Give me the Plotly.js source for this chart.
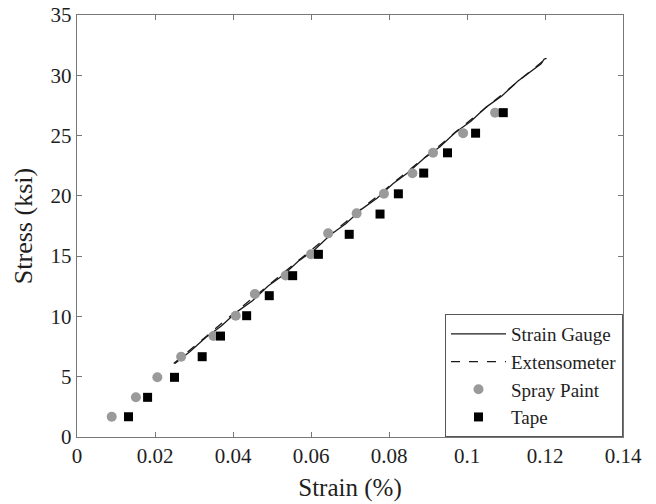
<!DOCTYPE html>
<html>
<head>
<meta charset="utf-8">
<script src="https://cdn.plot.ly/plotly-3.0.1.min.js"></script>
<style>html,body{margin:0;padding:0;background:#fff;}#chart{width:656px;height:504px;}</style>
</head>
<body>
<div id="chart"></div>
<script>
// Strain Gauge (solid line)
const gaugeStrain = [0.0251, 0.0290, 0.0330, 0.0370, 0.0410, 0.0450, 0.0490, 0.0530, 0.0570, 0.0610, 0.0650, 0.0690, 0.0730, 0.0770, 0.0810, 0.0850, 0.0890, 0.0930, 0.0970, 0.1010, 0.1050, 0.1090, 0.1130, 0.1170, 0.1190, 0.1198, 0.1204];
const gaugeStress = [6.10, 7.10, 8.25, 9.20, 10.38, 11.30, 12.52, 13.45, 14.65, 15.55, 16.78, 17.70, 18.90, 19.82, 21.00, 21.95, 23.12, 24.05, 25.25, 26.18, 27.38, 28.30, 29.50, 30.42, 30.95, 31.35, 31.40];
// Extensometer (dashed line)
const extStrain = [0.0248, 0.0290, 0.0330, 0.0370, 0.0410, 0.0450, 0.0490, 0.0530, 0.0570, 0.0610, 0.0650, 0.0690, 0.0730, 0.0770, 0.0810, 0.0850, 0.0890, 0.0930, 0.0970, 0.1010, 0.1050, 0.1090, 0.1130, 0.1170, 0.1200];
const extStress = [6.10, 7.25, 8.33, 9.38, 10.47, 11.50, 12.60, 13.62, 14.70, 15.74, 16.82, 17.85, 18.95, 19.96, 21.05, 22.08, 23.15, 24.18, 25.27, 26.30, 27.38, 28.40, 29.48, 30.52, 31.32];
// Spray Paint (gray circles)
const sprayStrain = [0.0089, 0.0151, 0.0206, 0.0267, 0.0350, 0.0407, 0.0456, 0.0535, 0.0600, 0.0644, 0.0717, 0.0787, 0.0860, 0.0913, 0.0990, 0.1072];
const sprayStress = [1.68, 3.29, 4.95, 6.66, 8.37, 10.06, 11.86, 13.40, 15.15, 16.89, 18.55, 20.17, 21.87, 23.57, 25.20, 26.90];
// Tape (black squares)
const tapeStrain = [0.0132, 0.0181, 0.0250, 0.0321, 0.0368, 0.0435, 0.0493, 0.0553, 0.0619, 0.0698, 0.0777, 0.0824, 0.0889, 0.0950, 0.1022, 0.1093];
const tapeStress = [1.68, 3.29, 4.95, 6.66, 8.37, 10.06, 11.72, 13.38, 15.15, 16.81, 18.49, 20.17, 21.89, 23.57, 25.20, 26.90];

const xTicks = [0, 0.02, 0.04, 0.06, 0.08, 0.1, 0.12, 0.14];
const xTickLabels = ['0', '0.02', '0.04', '0.06', '0.08', '0.1', '0.12', '0.14'];
const yTicks = [0, 5, 10, 15, 20, 25, 30, 35];

const serif = '"Liberation Serif", "Times New Roman", serif';

const traces = [
  {x: gaugeStrain, y: gaugeStress, name: 'Strain Gauge', mode: 'lines', type: 'scatter',
   line: {color: '#1a1a1a', width: 1.3}},
  {x: extStrain, y: extStress, name: 'Extensometer', mode: 'lines', type: 'scatter',
   line: {color: '#1a1a1a', width: 1.3, dash: 'dash'}},
  {x: sprayStrain, y: sprayStress, name: 'Spray Paint', mode: 'markers', type: 'scatter',
   marker: {symbol: 'circle', size: 10, color: '#9a9a9a'}},
  {x: tapeStrain, y: tapeStress, name: 'Tape', mode: 'markers', type: 'scatter',
   marker: {symbol: 'square', size: 9, color: '#000000'}}
];

const layout = {
  width: 656, height: 504,
  margin: {l: 77, r: 33, t: 15, b: 67},
  paper_bgcolor: '#ffffff', plot_bgcolor: '#ffffff',
  font: {family: serif, size: 20, color: '#1e1e1e'},
  showlegend: true,
  xaxis: {
    range: [0, 0.14], tickvals: xTicks, ticktext: xTickLabels,
    ticks: 'inside', ticklen: 5, tickcolor: '#777', mirror: 'ticks',
    showline: true, linecolor: '#777', linewidth: 1.2, showgrid: false, zeroline: false,
    tickfont: {family: serif, size: 21, color: '#1e1e1e'},
    title: {text: 'Strain (%)', font: {family: serif, size: 25, color: '#1e1e1e'}, standoff: 11}
  },
  yaxis: {
    range: [0, 35], tickvals: yTicks,
    ticks: 'inside', ticklen: 5, tickcolor: '#777', mirror: 'ticks',
    showline: true, linecolor: '#777', linewidth: 1.2, showgrid: false, zeroline: false,
    tickfont: {family: serif, size: 21, color: '#1e1e1e'},
    title: {text: 'Stress (ksi)', font: {family: serif, size: 26, color: '#1e1e1e'}, standoff: 10}
  },
  legend: {
    x: 1, xanchor: 'right', y: 0, yanchor: 'bottom',
    bgcolor: '#ffffff', bordercolor: '#555', borderwidth: 1,
    font: {family: serif, size: 19, color: '#1e1e1e'},
    itemwidth: 55, tracegroupgap: 0
  }
};

Plotly.newPlot('chart', traces, layout, {staticPlot: true});
</script>
</body>
</html>
